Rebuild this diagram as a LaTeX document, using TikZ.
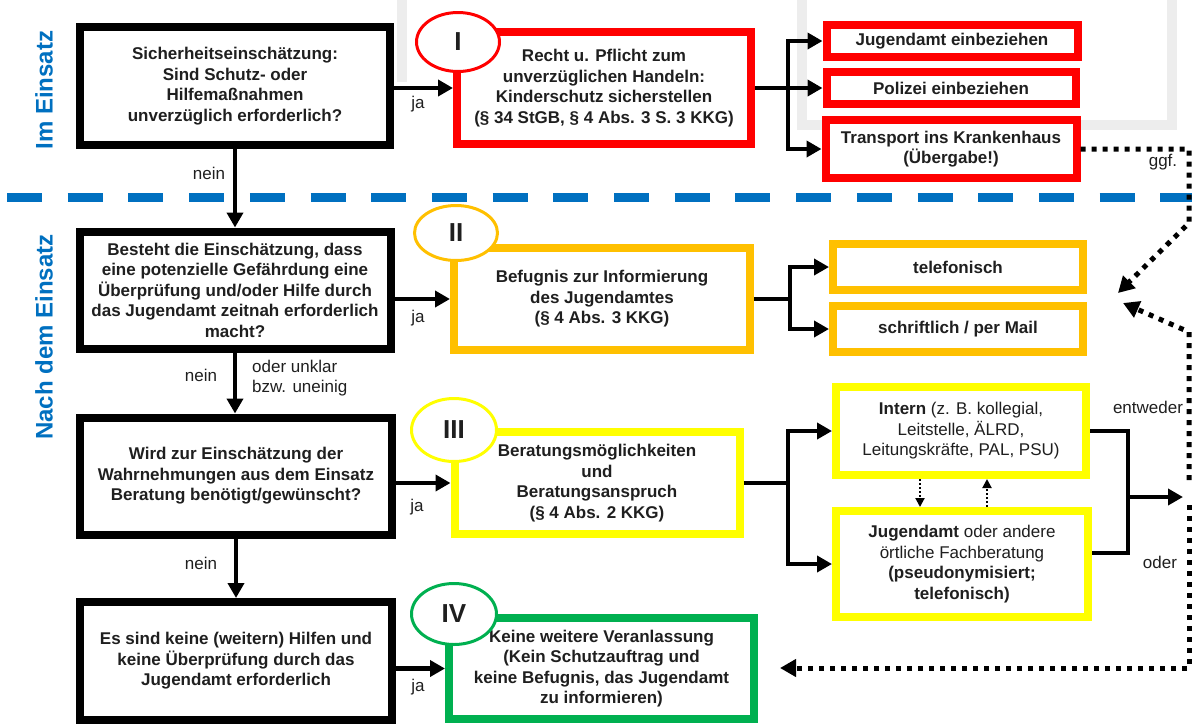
\documentclass[tikz,border=0pt]{standalone}
\usepackage{fontspec}
\setmainfont{Liberation Sans}
\usetikzlibrary{arrows.meta,shapes.geometric}

\definecolor{kRed}{HTML}{FF0000}
\definecolor{kOrange}{HTML}{FFC000}
\definecolor{kYellow}{HTML}{FFFF00}
\definecolor{kGreen}{HTML}{00B050}
\definecolor{kBlue}{HTML}{0070C0}
\definecolor{kInk}{HTML}{1F1F1F}
\definecolor{kFrame}{HTML}{EDEDED}

\begin{document}
\begin{tikzpicture}[x=1pt,y=-1pt,
  txt/.style={font=\fontsize{17}{20.5}\selectfont\bfseries, text=kInk, align=center},
  frame/.style={draw, line width=8pt, fill=white, inner sep=0pt, txt},
  qbox/.style={frame, draw=black},
  redbox/.style={frame, draw=kRed},
  orangebox/.style={frame, draw=kOrange},
  yellowbox/.style={frame, draw=kYellow},
  greenbox/.style={frame, draw=kGreen},
  roman/.style={ellipse, draw, line width=3pt, fill=white, inner sep=0pt,
    font=\fontsize{26}{26}\selectfont\bfseries, text=kInk},
  line/.style={line width=4.5pt, draw=black},
  flow/.style={line, -{Triangle[length=15pt,width=16pt]}},
  dots/.style={line width=5pt, dash pattern=on 5pt off 6pt},
  dotarrow/.style={dots, -{Triangle[length=16pt,width=17pt]}},
  smalldot/.style={line width=2pt, dash pattern=on 2pt off 2pt, -{Triangle[length=9pt,width=9pt]}},
  lbl/.style={font=\fontsize{17}{20}\selectfont, text=kInk, inner sep=0pt},
  section/.style={rotate=90, font=\fontsize{24}{24}\selectfont\bfseries, text=kBlue, inner sep=0pt},
]
\useasboundingbox (0,0) rectangle (1195,724);

% faint background frame remnants
\draw[kFrame, line width=10pt] (402,0) -- (402,82);
\draw[kFrame, line width=10pt] (802,0) -- (802,125) -- (1172,125) -- (1172,0);

% phase separator
\draw[kBlue, line width=9pt, dash pattern=on 35pt off 25.7pt] (7,197) -- (1192,197);

% phase titles
\node[section] (secA) at (44,90) {Im Einsatz};
\node[section] (secB) at (44,337) {Nach dem Einsatz};

% decision column
\node[qbox, minimum width=310pt, minimum height=118pt] (q1) at (235,86)
  {Sicherheitseinschätzung:\\Sind Schutz- oder\\Hilfemaßnahmen\\unverzüglich erforderlich?};
\node[qbox, minimum width=311pt, minimum height=117pt] (q2) at (235,290)
  {Besteht die Einschätzung, dass\\eine potenzielle Gefährdung eine\\Überprüfung und/oder Hilfe durch\\das Jugendamt zeitnah erforderlich\\macht?};
\node[qbox, minimum width=312pt, minimum height=117pt] (q3) at (236,476)
  {Wird zur Einschätzung der\\Wahrnehmungen aus dem Einsatz\\Beratung benötigt/gewünscht?};
\node[qbox, minimum width=312pt, minimum height=118pt] (q4) at (236,661)
  {Es sind keine (weitern) Hilfen und\\keine Überprüfung durch das\\Jugendamt erforderlich};

% level I
\node[redbox, minimum width=294pt, minimum height=112pt] (r1) at (604,88)
  {Recht u. Pflicht zum\\unverzüglichen Handeln:\\Kinderschutz sicherstellen\\(§ 34 StGB, § 4 Abs. 3 S. 3 KKG)};
\node[redbox, minimum width=251pt, minimum height=32pt] (ra) at (952,41) {Jugendamt einbeziehen};
\node[redbox, minimum width=249pt, minimum height=32pt] (rb) at (951,88) {Polizei einbeziehen};
\node[redbox, minimum width=251pt, minimum height=58pt] (rc) at (951,149) {Transport ins Krankenhaus\\(Übergabe!)};

% level II
\node[orangebox, minimum width=296pt, minimum height=102pt] (o1) at (602,299)
  {Befugnis zur Informierung\\des Jugendamtes\\(§ 4 Abs. 3 KKG)};
\node[orangebox, minimum width=250pt, minimum height=46pt] (oa) at (958,267) {telefonisch};
\node[orangebox, minimum width=250pt, minimum height=46pt] (ob) at (958,329) {schriftlich / per Mail};

% level III
\node[yellowbox, minimum width=285pt, minimum height=102pt] (y1) at (597,483)
  {Beratungsmöglichkeiten\\und\\Beratungsanspruch\\(§ 4 Abs. 2 KKG)};
\node[yellowbox, minimum width=250pt, minimum height=88pt] (ya) at (961,431)
  {Intern \mdseries(z. B. kollegial,\\\mdseries Leitstelle, ÄLRD,\\\mdseries Leitungskräfte, PAL, PSU)};
\node[yellowbox, minimum width=252pt, minimum height=106pt] (yb) at (962,564)
  {Jugendamt \mdseries oder andere\\\mdseries örtliche Fachberatung\\(pseudonymisiert;\\telefonisch)};

% level IV
\node[greenbox, minimum width=305pt, minimum height=101pt] (g1) at (601.5,668.5)
  {Keine weitere Veranlassung\\(Kein Schutzauftrag und\\keine Befugnis, das Jugendamt\\zu informieren)};

% level badges
\node[roman, draw=kRed, minimum width=83pt, minimum height=59pt] (e1) at (458,42) {I};
\node[roman, draw=kOrange, minimum width=83pt, minimum height=55pt] (e2) at (456,233) {II};
\node[roman, draw=kYellow, minimum width=85pt, minimum height=63pt] (e3) at (454,430) {III};
\node[roman, draw=kGreen, minimum width=85pt, minimum height=61pt] (e4) at (454,614) {IV};

% "nein" path down the decision column
\draw[flow] (q1.south) -- (q1.south |- q2.north);
\draw[flow] (q2.south) -- (q2.south |- q3.north);
\draw[flow] (q3.south) -- (q3.south |- q4.north);
\node[lbl] (n1) at (209,173) {nein};
\node[lbl] (n2) at (201,375) {nein};
\node[lbl, align=left, anchor=west] (n2b) at (252,378) {oder unklar\\bzw. uneinig};
\node[lbl] (n3) at (201,563) {nein};

% "ja" branches
\draw[flow] (q1.east |- r1.west) -- (r1.west);
\draw[flow] (q2.east |- o1.west) -- (o1.west);
\draw[flow] (q3.east |- y1.west) -- (y1.west);
\draw[flow] (q4.east |- g1.west) -- (g1.west);
\node[lbl] (j1) at (418,104) {ja};
\node[lbl] (j2) at (418,318) {ja};
\node[lbl] (j3) at (417,507) {ja};
\node[lbl] (j4) at (418,687) {ja};

% fan-out to the measures
\coordinate (b1) at (788,88);
\draw[line] (r1.east) -- (b1);
\draw[flow] (b1) |- (ra.west);
\draw[flow] (b1) -- (rb.west);
\draw[flow] (b1) |- (rc.west);

\coordinate (b2) at (790,299);
\draw[line] (o1.east) -- (b2);
\draw[flow] (b2) |- (oa.west);
\draw[flow] (b2) |- (ob.west);

\coordinate (b3) at (788,483);
\draw[line] (y1.east) -- (b3);
\draw[flow] (b3) |- (ya.west);
\draw[flow] (b3) |- (yb.west);

% consultation exchange
\coordinate (sx1) at (920,0);
\coordinate (sx2) at (987,0);
\draw[smalldot] (sx1 |- ya.south) -- (sx1 |- yb.north);
\draw[smalldot] (sx2 |- yb.north) -- (sx2 |- ya.south);

% consultation result
\coordinate (m) at (1128,497);
\coordinate (mEnd) at (1183,497);
\draw[line] (ya.east) -| (m);
\draw[line] ([yshift=11pt]yb.east) -| (m);
\draw[flow] (m) -- (mEnd);
\node[lbl] (either) at (1148,407) {entweder};
\node[lbl] (or) at (1160,562) {oder};

% optional follow-up paths
\coordinate (gR) at (1189,223);
\coordinate (gTip) at (1118,293);
\draw[dotarrow] (rc.east) -| (gR) -- (gTip);
\node[lbl] (ggf) at (1163,162) {ggf.};

\coordinate (uStart) at (1189,480);
\coordinate (uBend) at (1189,332);
\coordinate (uTip) at (1123,303);
\draw[dotarrow] (uStart) -- (uBend) -- (uTip);

\coordinate (dStart) at (1189,505);
\coordinate (dBend) at (1189,668);
\coordinate (dTip) at (780,668);
\draw[dotarrow] (dStart) -- (dBend) -- (dTip);
\end{tikzpicture}
\end{document}
